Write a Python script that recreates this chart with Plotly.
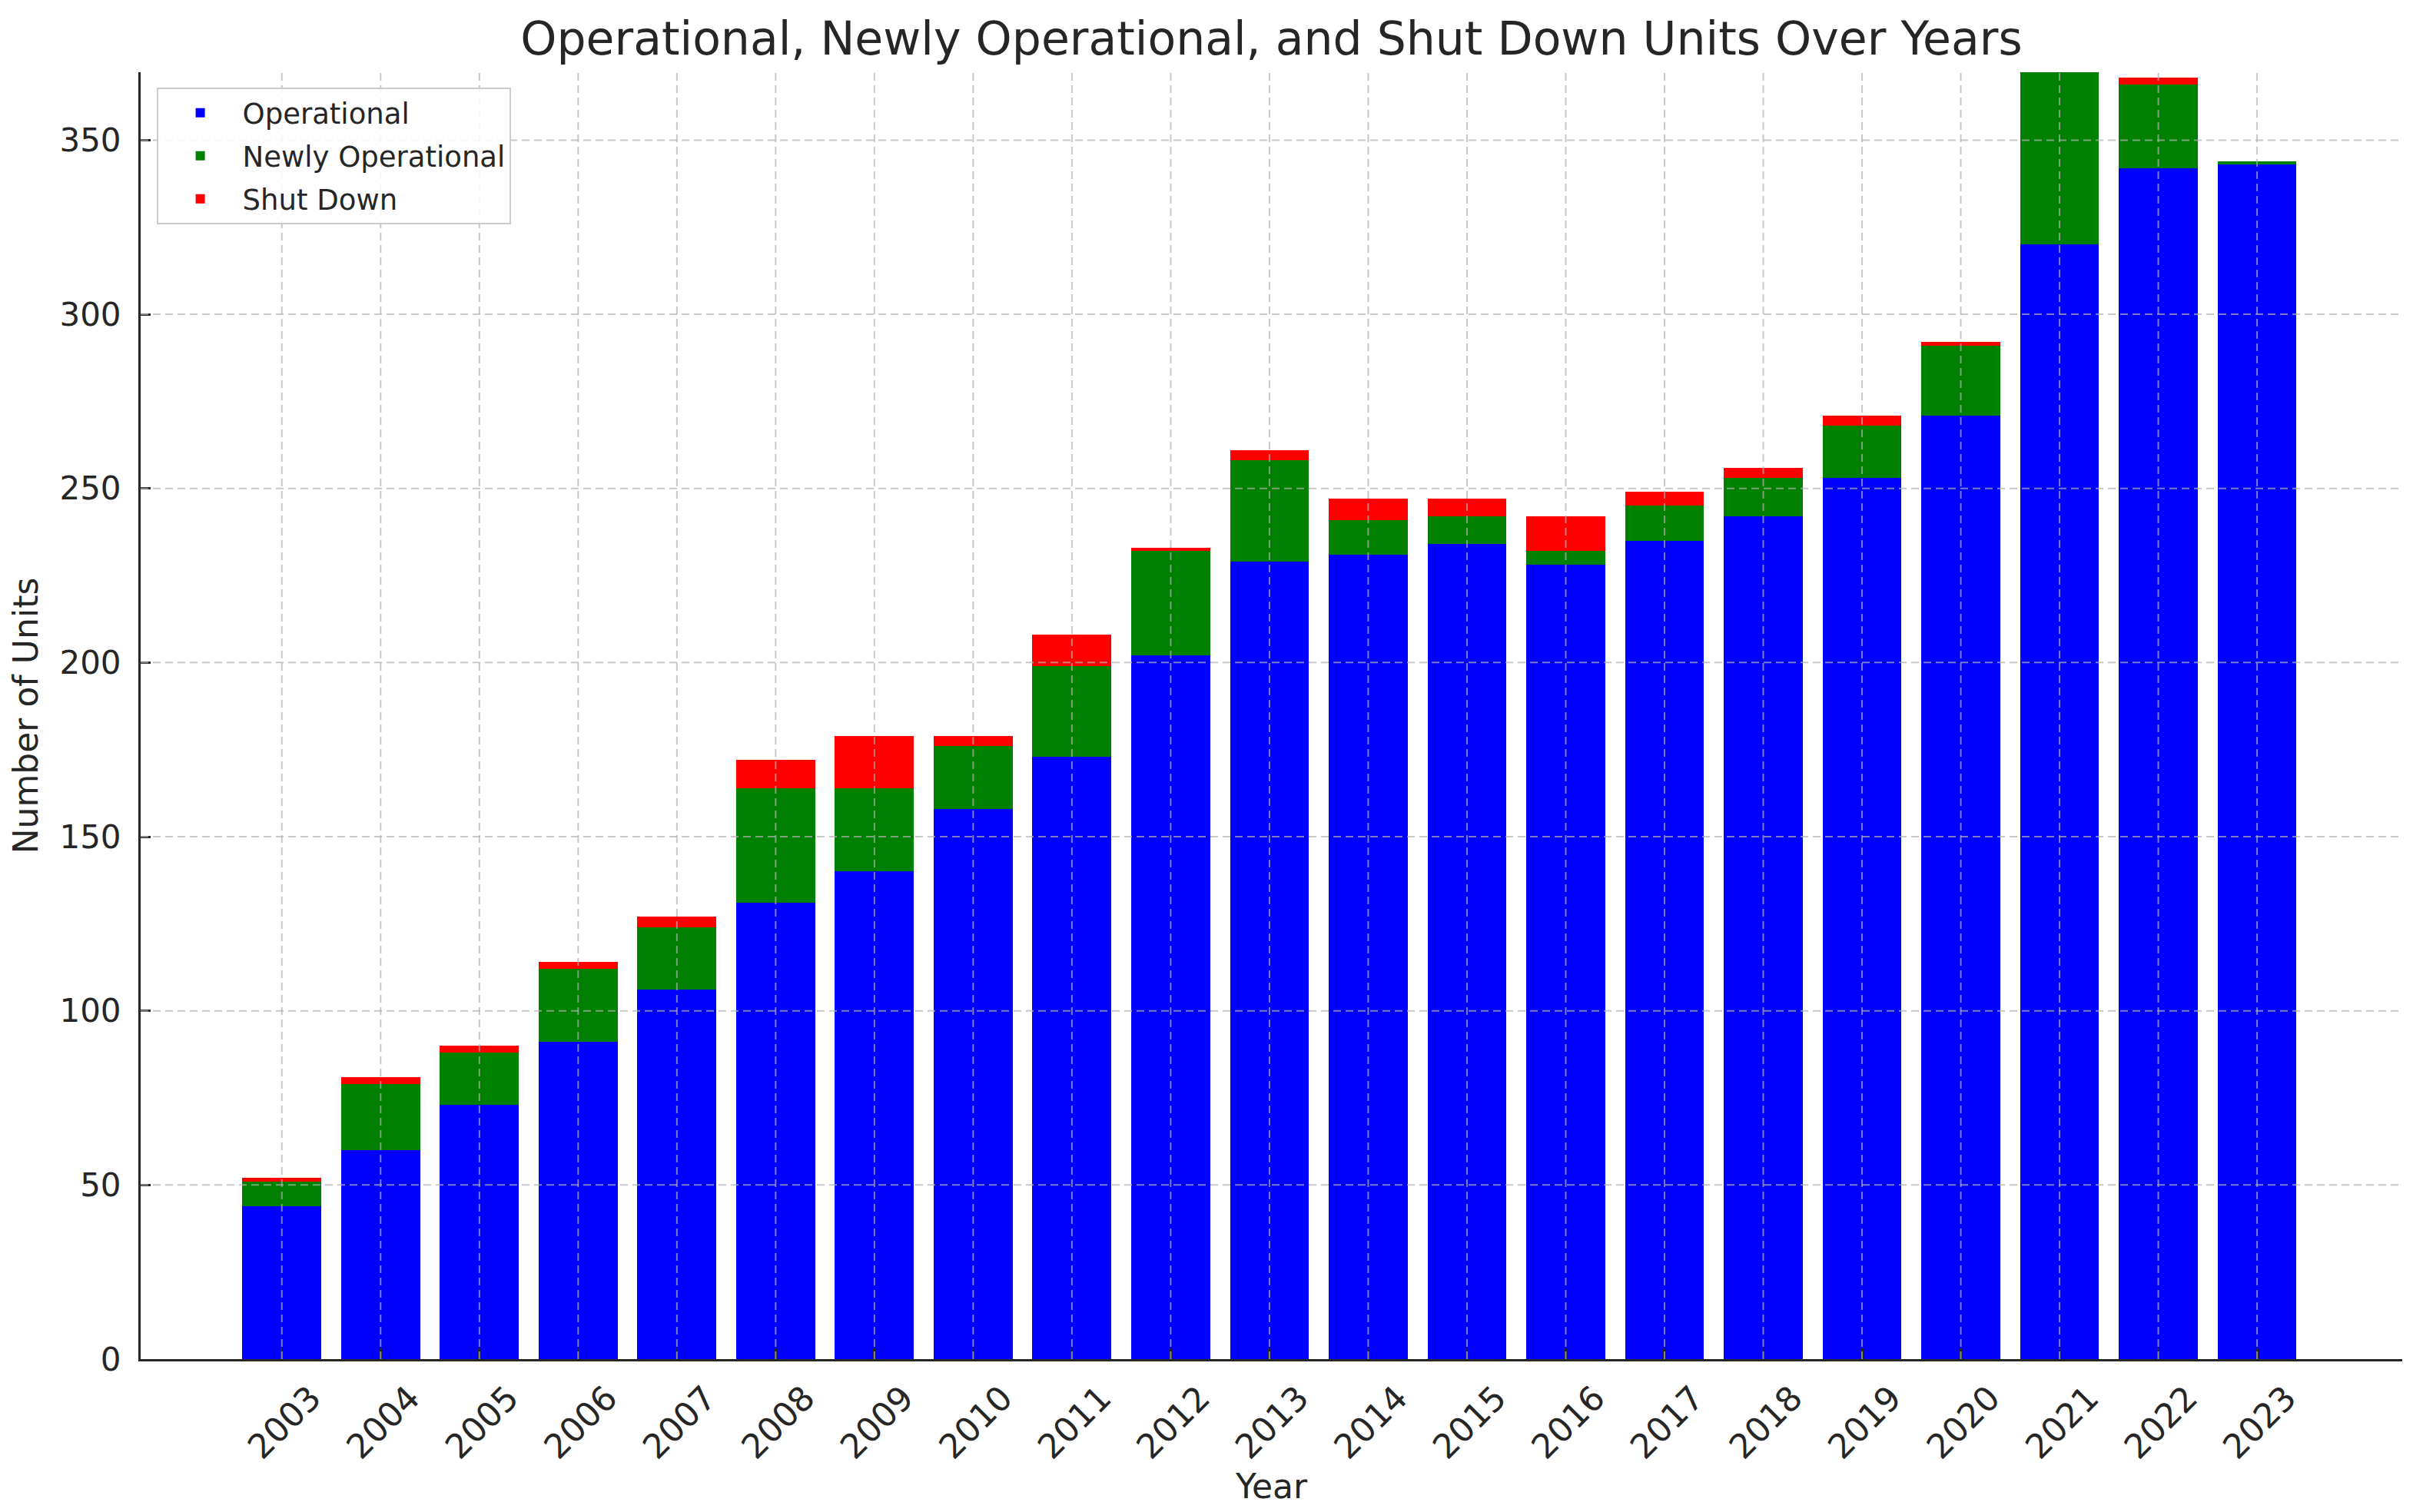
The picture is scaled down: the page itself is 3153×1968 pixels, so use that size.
import plotly.graph_objects as go

years = list(range(2003, 2024))
operational = [44, 60, 73, 91, 106, 131, 140, 158, 173, 202, 229, 231, 234, 228, 235, 242, 253, 271, 320, 342, 343]
newly_operational = [7, 19, 15, 21, 18, 33, 24, 18, 26, 30, 29, 10, 8, 4, 10, 11, 15, 20, 50, 24, 1]
shut_down = [1, 2, 2, 2, 3, 8, 15, 3, 9, 1, 3, 6, 5, 10, 4, 3, 3, 1, 2, 2, 0]
y_ticks = [0, 50, 100, 150, 200, 250, 300, 350]

FONT = "DejaVu Sans"
TXT = "#262626"

# page body has an 8px default margin; compensate so the figure fills the window
W, H = 3145, 1960

fig = go.Figure()
fig.add_trace(go.Bar(x=years, y=operational, name="Operational", legendgroup="op",
                     marker=dict(color="#0000ff", line=dict(width=0)), width=0.8))
fig.add_trace(go.Bar(x=years, y=newly_operational, name="Newly Operational", legendgroup="new",
                     marker=dict(color="#008000", line=dict(width=0)), width=0.8))
fig.add_trace(go.Bar(x=years, y=shut_down, name="Shut Down", legendgroup="shut",
                     marker=dict(color="#ff0000", line=dict(width=0)), width=0.8))

grid_style = dict(color="rgba(176,176,176,0.7)", width=2, dash="10px,6px")
shapes = []
for yr in years:
    shapes.append(dict(type="line", xref="x", yref="paper", x0=yr, x1=yr, y0=0, y1=1,
                       line=grid_style, layer="above"))
for t in y_ticks[1:]:
    shapes.append(dict(type="line", xref="paper", yref="y", x0=0, x1=1, y0=t, y1=t,
                       line=grid_style, layer="above"))

fig.update_layout(
    barmode="stack",
    width=W, height=H, autosize=False,
    margin=dict(l=175, r=27, t=86, b=199),
    plot_bgcolor="white", paper_bgcolor="white",
    font=dict(family=FONT, color=TXT, size=42),
    title=dict(text="Operational, Newly Operational, and Shut Down Units Over Years",
               font=dict(family=FONT, size=60, color=TXT),
               x=0.5, xref="paper", xanchor="center",
               y=1 - 42 / H, yref="container", yanchor="middle"),
    legend=dict(x=0.007, y=0.988, xanchor="left", yanchor="top",
                bgcolor="rgba(255,255,255,0.85)", bordercolor="#cccccc", borderwidth=2,
                font=dict(family=FONT, size=37, color=TXT), traceorder="grouped",
                itemwidth=100, tracegroupgap=5),
    shapes=shapes,
    bargap=0.2,
)

fig.update_xaxes(
    range=[2001.57, 2024.47], tickmode="array", tickvals=years,
    ticktext=[str(y) for y in years], tickangle=-45,
    tickfont=dict(family=FONT, size=44, color=TXT),
    ticks="inside", ticklen=14, tickwidth=3, tickcolor=TXT,
    showline=True, linecolor=TXT, linewidth=3, showgrid=False, zeroline=False,
    ticklabelshift=38, ticklabelstandoff=4,
    title=dict(text="Year", font=dict(family=FONT, size=44, color=TXT), standoff=0),
)
fig.update_yaxes(
    range=[0, 369.5], tickmode="array", tickvals=y_ticks,
    tickfont=dict(family=FONT, size=42, color=TXT),
    ticks="inside", ticklen=13, tickwidth=3, tickcolor=TXT,
    showline=True, linecolor=TXT, linewidth=3, showgrid=False, zeroline=False,
    ticklabelstandoff=14,
    title=dict(text="Number of Units", font=dict(family=FONT, size=44, color=TXT), standoff=17),
)

fig.write_html("out.html")
